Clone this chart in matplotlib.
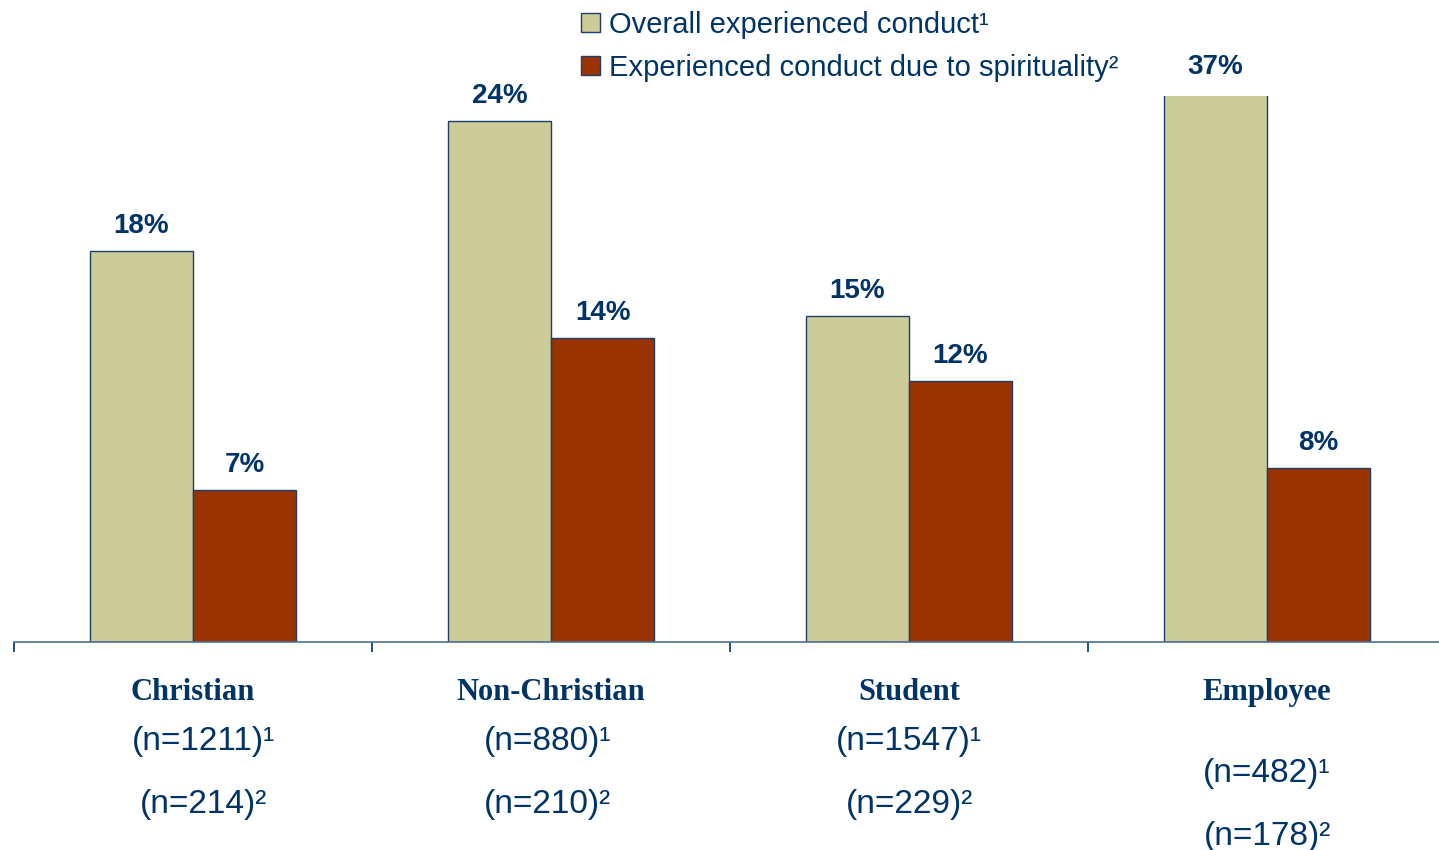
import numpy as np
import matplotlib.pyplot as plt
from matplotlib.transforms import blended_transform_factory

# data
groups = ['Christian', 'Non-Christian', 'Student', 'Employee']
overall = [18, 24, 15, 37]
spiritual = [7, 14, 12, 8]
n_overall = ['(n=1211)¹', '(n=880)¹', '(n=1547)¹', '(n=482)¹']
n_spiritual = ['(n=214)²', '(n=210)²', '(n=229)²', '(n=178)²']
series_names = ['Overall experienced conduct¹', 'Experienced conduct due to spirituality²']

navy = '#003366'
tan = '#CCCC99'
rust = '#993300'
edge = '#1F3F6B'

W, H = 1439, 850
fig = plt.figure(figsize=(W / 100, H / 100), dpi=100)
ax = fig.add_axes([14 / W, 208 / H, 1432 / W, 546 / H])
ymax = 25.15
ax.set_xlim(-0.5, 3.5)
ax.set_ylim(0, ymax)

x = np.arange(len(groups))
w = 0.288
b1 = ax.bar(x - w / 2, overall, w, color=tan, edgecolor=edge, linewidth=1, label=series_names[0])
b2 = ax.bar(x + w / 2, spiritual, w, color=rust, edgecolor=edge, linewidth=1, label=series_names[1])

# value labels (clipped bar gets its label just above the axes top)
for bars, vals in ((b1, overall), (b2, spiritual)):
    for rect, v in zip(bars, vals):
        off = 13 if v <= ymax else 16
        ax.annotate(f'{v}%', (rect.get_x() + rect.get_width() / 2, min(v, ymax)),
                    xytext=(0, off), textcoords='offset points', ha='center', va='baseline',
                    fontsize=20, fontweight='bold', color=navy, family='Liberation Sans',
                    annotation_clip=False)

# axes styling
for s in ['left', 'top', 'right']:
    ax.spines[s].set_visible(False)
ax.spines['bottom'].set_color('#4F6F91')
ax.spines['bottom'].set_linewidth(1.2)
ax.set_yticks([])
ax.set_xticks(x - 0.5)
ax.set_xticklabels([])
ax.tick_params(axis='x', direction='out', length=7, width=1.2, color=navy)

# category labels below the axis
trans = blended_transform_factory(ax.transData, fig.transFigure)
n1_y = [750, 750, 750, 782]
n2_y = [813, 813, 813, 845]
n_dx = [0.03, -0.01, 0.0, 0.0]
for i, g in enumerate(groups):
    ax.text(i, 1 - 700 / H, g, transform=trans, ha='center', va='baseline',
            fontsize=22, fontweight='bold', color=navy, family='Liberation Serif')
    ax.text(i + n_dx[i], 1 - n1_y[i] / H, n_overall[i], transform=trans, ha='center', va='baseline',
            fontsize=24, color=navy, family='Liberation Sans')
    ax.text(i + n_dx[i], 1 - n2_y[i] / H, n_spiritual[i], transform=trans, ha='center', va='baseline',
            fontsize=24, color=navy, family='Liberation Sans')

leg = fig.legend(handles=[b1, b2], loc='upper left', bbox_to_anchor=(581 / W, 1 - 11 / H),
                 frameon=False, handlelength=0.65, handleheight=0.62,
                 handletextpad=0.3, borderpad=0, borderaxespad=0, labelspacing=0.52,
                 prop={'family': 'Liberation Sans', 'size': 21})
for t in leg.get_texts():
    t.set_color(navy)

plt.savefig('out.png', dpi=100)
